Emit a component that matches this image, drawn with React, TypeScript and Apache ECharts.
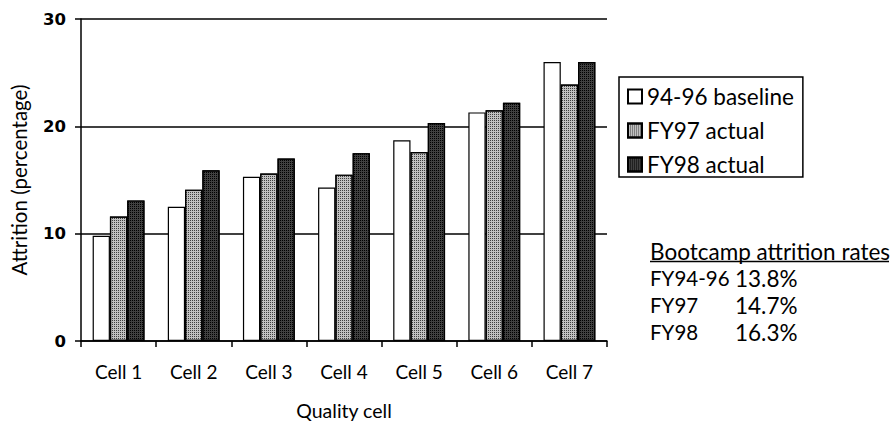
import React, { useEffect, useRef } from "react";
import * as echarts from "echarts";

const categories = ["Cell 1", "Cell 2", "Cell 3", "Cell 4", "Cell 5", "Cell 6", "Cell 7"];
const baseline = [9.8, 12.5, 15.3, 14.3, 18.7, 21.3, 26.0];
const fy97 = [11.6, 14.1, 15.6, 15.5, 17.6, 21.5, 23.9];
const fy98 = [13.1, 15.9, 17.0, 17.5, 20.3, 22.2, 26.0];
const seriesNames = ["94-96 baseline", "FY97 actual", "FY98 actual"];
const bootcampTitle = "Bootcamp attrition rates";
const bootcampLabels = ["FY94-96", "FY97", "FY98"];
const bootcampRates = ["13.8%", "14.7%", "16.3%"];

const FONT = "Lato";

export default function App() {
  const ref = useRef<HTMLDivElement>(null);
  useEffect(() => {
    if (!ref.current) return;
    const chart = echarts.init(ref.current, null, { renderer: "svg" });
    const barStyle = (color: string, decalColor: string | null) => {
      const s: any = { color, borderColor: "#000", borderWidth: 1.2 };
      if (decalColor) {
        s.decal = {
          symbol: "rect",
          symbolSize: 1,
          dashArrayX: [1, 1],
          dashArrayY: [1, 1],
          color: decalColor,
          rotation: 0,
        };
      }
      return s;
    };
    const titleFont = `22.5px ${FONT}`;
    const labelFont = `20.5px ${FONT}`;
    const rateFont = `22.5px ${FONT}`;
    const graphics: any[] = [
      {
        type: "text",
        x: 650,
        y: 251,
        style: { text: bootcampTitle, font: titleFont, fill: "#000", verticalAlign: "middle" },
      },
      {
        type: "line",
        shape: { x1: 650, y1: 261.5, x2: 889, y2: 261.5 },
        style: { stroke: "#000", lineWidth: 1.5 },
      },
    ];
    bootcampLabels.forEach((lab, i) => {
      graphics.push({
        type: "text",
        x: 650,
        y: 278 + i * 27,
        style: { text: lab, font: labelFont, fill: "#000", verticalAlign: "middle" },
      });
      graphics.push({
        type: "text",
        x: 735,
        y: 278 + i * 27,
        style: { text: bootcampRates[i], font: rateFont, fill: "#000", verticalAlign: "middle" },
      });
    });
    chart.setOption({
      animation: false,
      textStyle: { fontFamily: FONT, color: "#000" },
      grid: { left: 79, right: 287, top: 19, bottom: 82 },
      legend: {
        orient: "vertical",
        left: 619,
        top: 77,
        icon: "rect",
        itemWidth: 14,
        itemHeight: 14,
        itemGap: 11,
        padding: [8, 9, 1, 8],
        borderColor: "#000",
        borderWidth: 1.5,
        textStyle: { fontFamily: FONT, fontSize: 22.5, color: "#000" },
        data: seriesNames,
      },
      xAxis: {
        type: "category",
        data: categories,
        name: "Quality cell",
        nameLocation: "middle",
        nameGap: 59,
        nameTextStyle: { fontFamily: FONT, fontSize: 19.5, color: "#000" },
        axisLine: { lineStyle: { color: "#000", width: 1.5 } },
        axisTick: { show: true, length: 6, lineStyle: { color: "#000", width: 1.5 } },
        axisLabel: { fontFamily: FONT, fontSize: 19, color: "#000", margin: 21 },
      },
      yAxis: {
        type: "value",
        min: 0,
        max: 30,
        interval: 10,
        name: "Attrition (percentage)",
        nameLocation: "middle",
        nameGap: 52,
        nameRotate: 90,
        nameTextStyle: { fontFamily: FONT, fontSize: 20.5, color: "#000" },
        axisLine: { show: true, lineStyle: { color: "#000", width: 1.5 } },
        axisTick: { show: true, length: 6, lineStyle: { color: "#000", width: 1.5 } },
        axisLabel: {
          fontFamily: "DejaVu Sans",
          fontSize: 16.5,
          fontWeight: "bold",
          color: "#000",
          margin: 15,
        },
        splitLine: { show: true, lineStyle: { color: "#000", width: 1.5 } },
      },
      series: [
        {
          name: seriesNames[0],
          type: "bar",
          data: baseline,
          barGap: "0%",
          barCategoryGap: "31%",
          itemStyle: barStyle("#ffffff", null),
        },
        {
          name: seriesNames[1],
          type: "bar",
          data: fy97,
          itemStyle: barStyle("#c0c0c0", "rgba(30,30,30,0.8)"),
        },
        {
          name: seriesNames[2],
          type: "bar",
          data: fy98,
          itemStyle: barStyle("#404040", "#000000"),
        },
      ],
      graphic: graphics,
    });
    return () => chart.dispose();
  }, []);
  return (
    <div
      ref={ref}
      style={{ position: "absolute", left: 0, top: 0, width: 894, height: 425 }}
    />
  );
}
